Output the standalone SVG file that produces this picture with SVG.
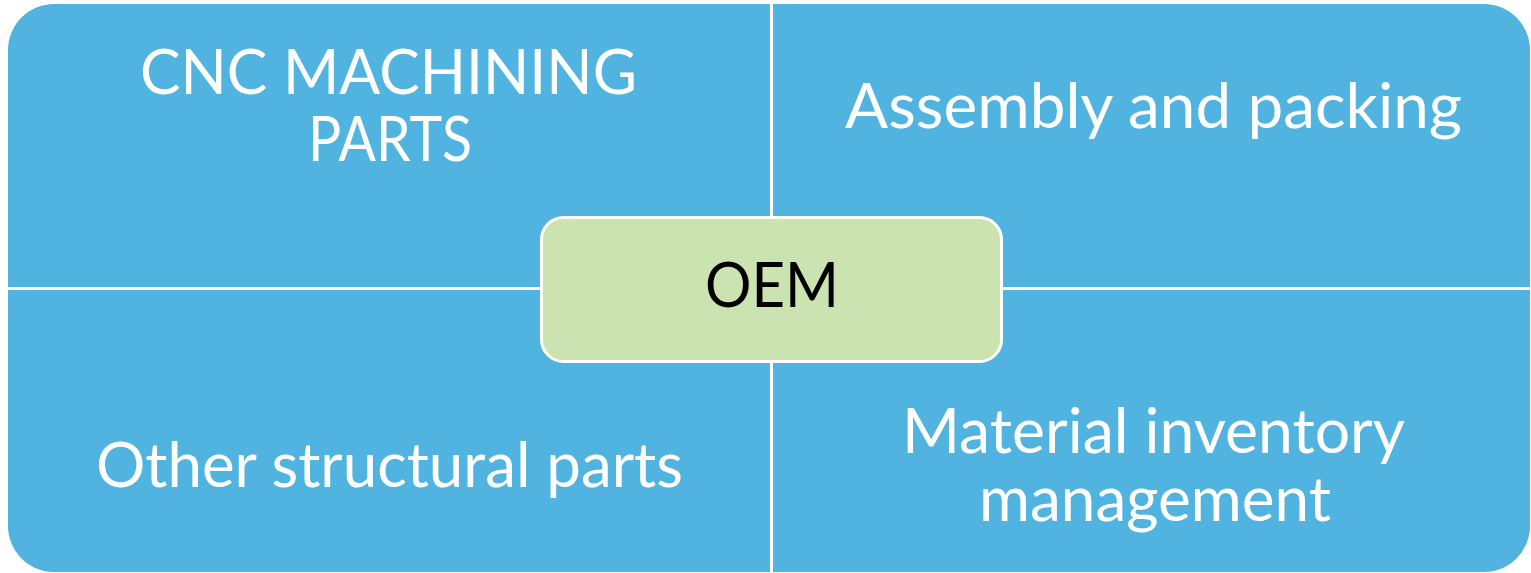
<svg xmlns="http://www.w3.org/2000/svg" width="1531" height="573" viewBox="0 0 1531 573">
<style>
.q{fill:#50B3E0}
.t{font-family:"Lato","Liberation Sans",sans-serif;font-size:61px;fill:#FFFFFF;text-anchor:start}
.c{fill:#CAE3B0;stroke:#FFFFFF;stroke-width:3}
.ct{font-family:"Lato","Liberation Sans",sans-serif;font-size:61px;fill:#000000}
</style>
<rect width="1531" height="573" fill="#FFFFFF"/>
<g id="connectors"></g>
<g id="node-cnc">
<path class="q" d="M8,287 V50 A46,46 0 0 1 54,4 H770 V287 Z"/>
<text class="t" x="140" y="94" textLength="497" lengthAdjust="spacingAndGlyphs">CNC MACHINING</text>
<text class="t" x="308" y="161" textLength="164" lengthAdjust="spacingAndGlyphs">PARTS</text>
</g>
<g id="node-assembly">
<path class="q" d="M773,4 H1484 A46,46 0 0 1 1530,50 V287 H773 Z"/>
<text class="t" x="845" y="128" textLength="617" lengthAdjust="spacingAndGlyphs">Assembly and packing</text>
</g>
<g id="node-other">
<path class="q" d="M8,290 H770 V572 H54 A46,46 0 0 1 8,526 Z"/>
<text class="t" x="96" y="487" textLength="587" lengthAdjust="spacingAndGlyphs">Other structural parts</text>
</g>
<g id="node-material">
<path class="q" d="M773,290 H1530 V526 A46,46 0 0 1 1484,572 H773 Z"/>
<text class="t" x="902" y="453" textLength="503" lengthAdjust="spacingAndGlyphs">Material inventory</text>
<text class="t" x="979" y="521" textLength="352" lengthAdjust="spacingAndGlyphs">management</text>
</g>
<g id="node-oem">
<rect class="c" x="541.5" y="217.5" width="460" height="144" rx="22" ry="22"/>
<text class="ct" x="705" y="307" textLength="134" lengthAdjust="spacingAndGlyphs">OEM</text>
</g>
</svg>
